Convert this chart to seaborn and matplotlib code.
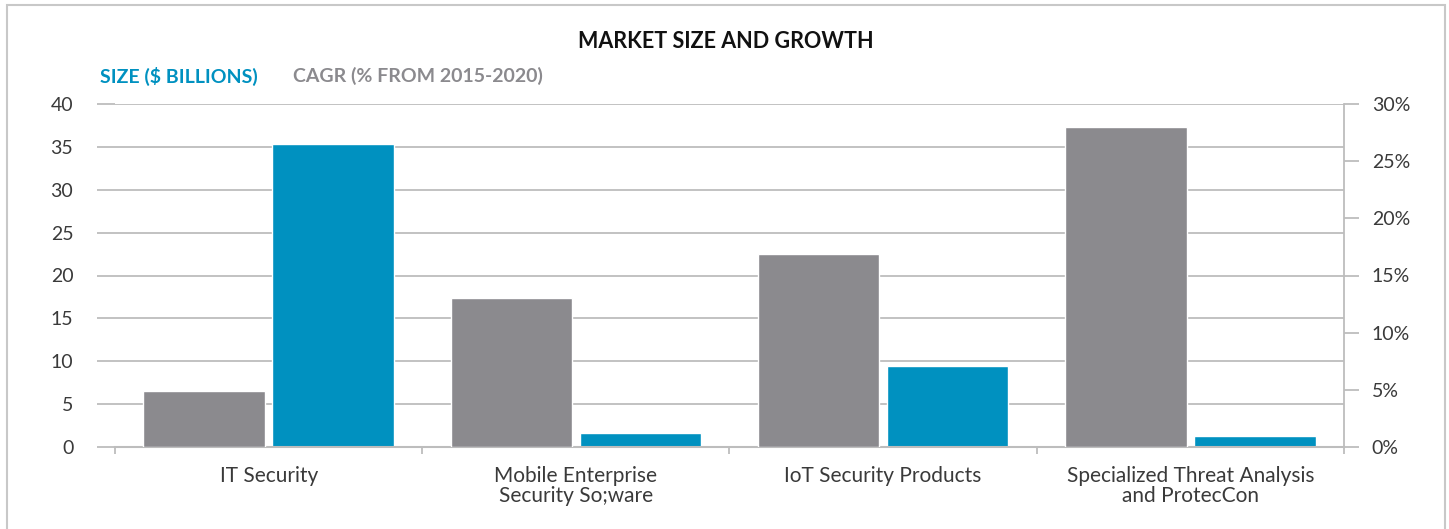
import numpy as np
import pandas as pd
import matplotlib
matplotlib.use("Agg")
import matplotlib.pyplot as plt
import seaborn as sns
from matplotlib.ticker import FuncFormatter, MultipleLocator, FixedLocator
from matplotlib.patches import Rectangle

# data
categories = ["IT Security", "Mobile Enterprise\nSecurity So;ware",
              "IoT Security Products", "Specialized Threat Analysis\nand ProtecCon"]
size_billions = [35.3, 1.6, 9.4, 1.3]
cagr_pct = [4.9, 13.0, 16.9, 28.0]

gray = "#8B8A8E"
blue = "#0091C0"
grid_col = "#BDBDBD"
text_col = "#3A3A3A"

df = pd.DataFrame({
    "category": categories * 2,
    "metric": ["CAGR"] * 4 + ["Size"] * 4,
    "value": cagr_pct + size_billions,
})

sns.set_theme(style="white")
plt.rcParams["font.family"] = ["Lato", "DejaVu Sans"]

fig = plt.figure(figsize=(14.49, 5.29), dpi=100)
ax = fig.add_axes([115 / 1449, 1 - 447 / 529, (1344 - 115) / 1449, (447 - 104) / 529])
ax2 = ax.twinx()

hue_order = ["CAGR", "Size"]
pal = {"CAGR": gray, "Size": blue}
sns.barplot(data=df[df.metric == "Size"], x="category", y="value", hue="metric",
            hue_order=hue_order, palette=pal, order=categories, width=0.84, gap=0.06,
            dodge=True, legend=False, ax=ax, zorder=3, saturation=1)
sns.barplot(data=df[df.metric == "CAGR"], x="category", y="value", hue="metric",
            hue_order=hue_order, palette=pal, order=categories, width=0.84, gap=0.06,
            dodge=True, legend=False, ax=ax2, zorder=3, saturation=1)

# left axis
ax.set_ylim(0, 40)
ax.yaxis.set_major_locator(MultipleLocator(5))
ax.grid(axis="y", color=grid_col, linewidth=1.3)
ax.set_axisbelow(True)
ax.tick_params(axis="y", length=13, width=1.3, color=grid_col, pad=17,
               labelsize=14, labelcolor=text_col, left=True)
ax.set_xlim(-0.5, 3.5)
ax.set_xlabel("")
ax.set_ylabel("")

# right axis
ax2.set_ylim(0, 30)
ax2.yaxis.set_major_locator(MultipleLocator(5))
ax2.yaxis.set_major_formatter(FuncFormatter(lambda v, p: f"{v:.0f}%"))
ax2.tick_params(axis="y", length=11, width=1.3, color=grid_col, pad=9,
                labelsize=14, labelcolor=text_col, right=True)
ax2.grid(False)
ax2.set_ylabel("")
ax2.set_xlabel("")

# x axis: separators between categories
for a in (ax, ax2):
    for s in ("top", "left"):
        a.spines[s].set_visible(False)
ax.spines["right"].set_visible(False)
ax2.spines["right"].set_color(grid_col)
ax2.spines["right"].set_linewidth(1.3)
ax2.spines["bottom"].set_color(grid_col)
ax2.spines["bottom"].set_linewidth(1.5)
ax.spines["bottom"].set_visible(False)
ax.xaxis.set_minor_locator(FixedLocator(np.arange(-0.5, 4, 1)))
ax.tick_params(axis="x", which="major", length=0, pad=14, labelsize=15,
               labelcolor=text_col)
for lbl in ax.get_xticklabels():
    lbl.set_linespacing(1.0)
ax.tick_params(axis="x", which="minor", length=5, width=1.3, color=grid_col, bottom=True)
ax2.tick_params(axis="x", which="both", length=0, labelbottom=False)

# headings
fig.text(726 / 1449, 1 - 42 / 529, "MARKET SIZE AND GROWTH", ha="center", va="center",
         fontsize=15.5, fontweight="bold", color="#111111")
fig.text(100 / 1449, 1 - 76 / 529, "SIZE ($ BILLIONS)", ha="left", va="center",
         fontsize=14, fontweight="bold", color=blue)
fig.text(293 / 1449, 1 - 76 / 529, "CAGR (% FROM 2015-2020)", ha="left", va="center",
         fontsize=14, fontweight="bold", color=gray)

# frame around the figure
fig.patches.append(Rectangle((7 / 1449, -0.02), (1445 - 7) / 1449, 1.02 - 5 / 529,
                             transform=fig.transFigure, fill=False,
                             edgecolor="#C8C8C8", linewidth=1.5))

fig.savefig("out.png", dpi=100)
